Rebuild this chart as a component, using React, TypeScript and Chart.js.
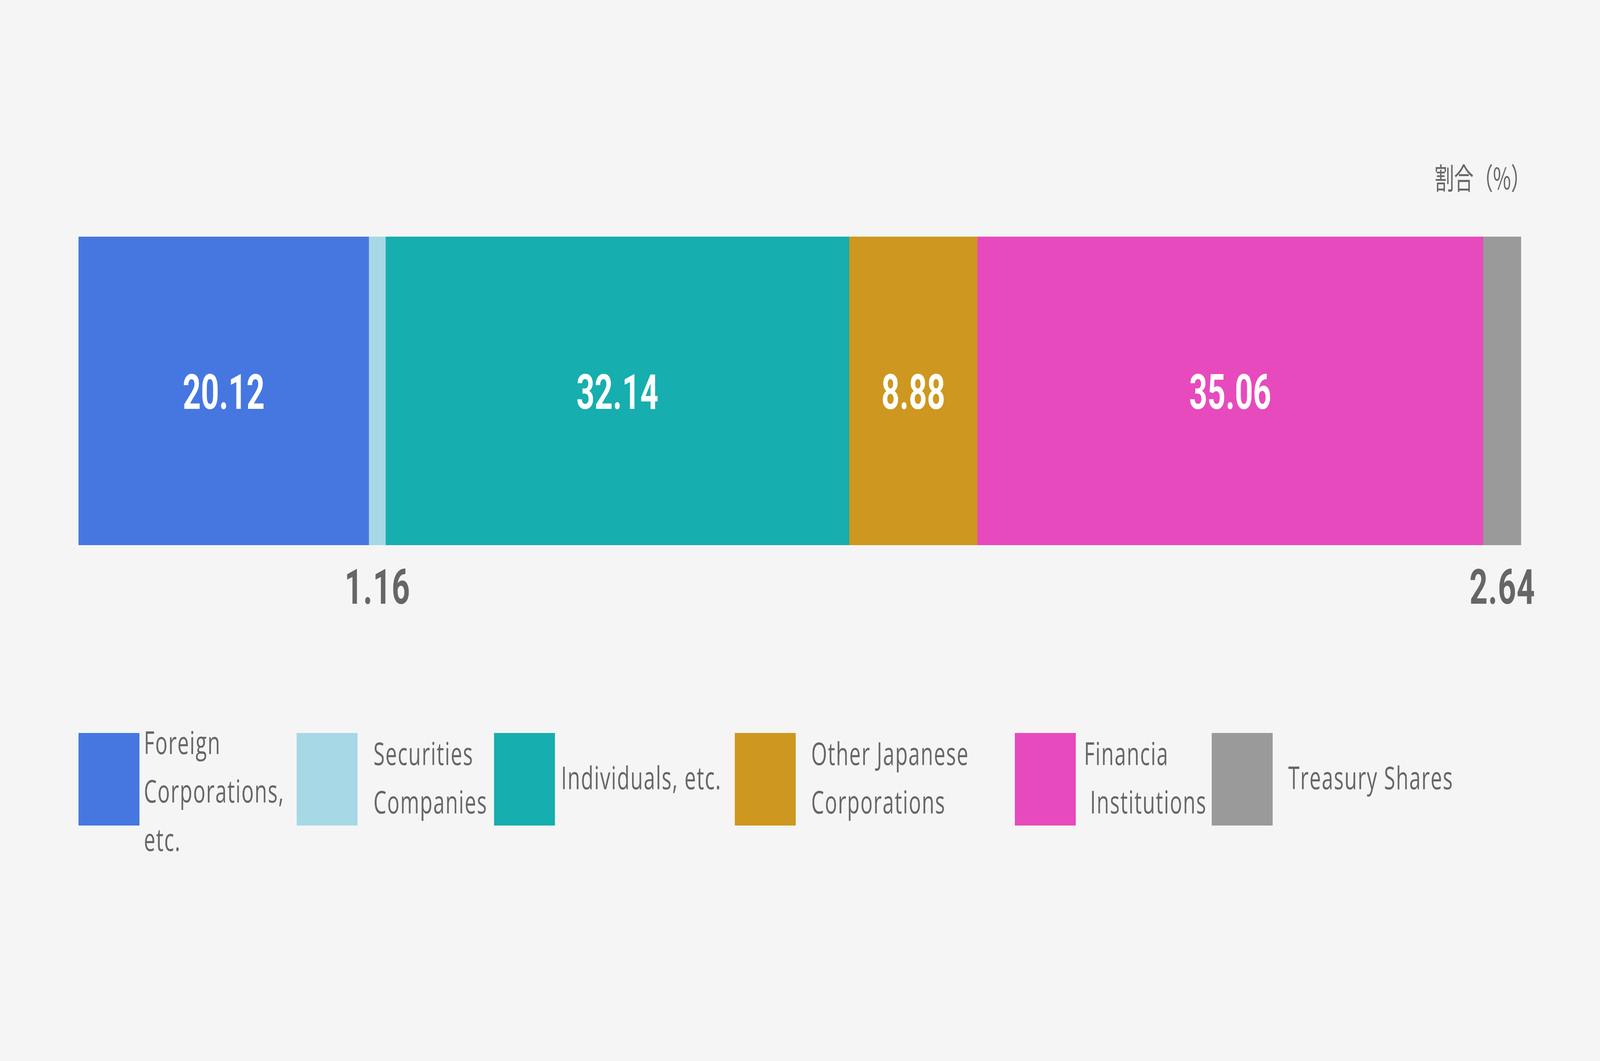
import { useEffect, useRef } from "react"
import { Chart, registerables } from "chart.js"

Chart.register(...registerables)

// categories, split into the lines used in the legend
const categoryLines = [
  ["Foreign", "Corporations,", "etc."],
  ["Securities", "Companies"],
  ["Individuals, etc."],
  ["Other Japanese", "Corporations"],
  ["Financia", " Institutions"],
  ["Treasury Shares"],
]
const shareValues = [20.12, 1.16, 32.14, 8.88, 35.06, 2.64]
const unitLabel = "割合（%）"

const colors = ["#4677e1", "#a6d8e6", "#16aeae", "#ce971f", "#e74abd", "#9a9a9a"]

// the chart is laid out at the reference size and fitted to the window
const REF_W = 6251
const REF_H = 2717
const legendBoxX = [307, 1159, 1930, 2871, 3965, 4734]
const legendTextX = [562, 1459, 2192, 3169, 4235, 5033]
const LEGEND_TOP = 1877
const BOX_W = 238
const BOX_H = 237
const LINE_H = 124
const CAP_H = 58

const overlayPlugin = {
  id: "overlay",
  afterDatasetsDraw(chart: Chart) {
    const ctx = chart.ctx as any
    const area = chart.chartArea
    ctx.save()

    // unit label
    ctx.font = '400 76px "Noto Sans CJK JP"'
    ctx.fillStyle = "#666"
    ctx.textAlign = "right"
    ctx.textBaseline = "middle"
    ctx.fillText(unitLabel, area.right + 36, 456)

    // value labels: inside the bar, or under it for the thin segments
    ctx.font = "700 124px Roboto"
    ctx.textAlign = "center"
    ctx.textBaseline = "alphabetic"
    chart.data.datasets.forEach((ds, i) => {
      const el: any = chart.getDatasetMeta(i).data[0]
      if (!el) return
      const { x, base, y } = el.getProps(["x", "base", "y"], true)
      const cx = (x + base) / 2
      const v = ds.data[0] as number
      const txt = v.toFixed(2)
      if (v >= 5) {
        ctx.letterSpacing = "0px"
        ctx.fillStyle = "#ffffff"
        ctx.fillText(txt, cx, y + 46)
      } else {
        ctx.letterSpacing = "2px"
        ctx.fillStyle = "#666"
        ctx.fillText(txt, cx + 1, area.bottom + 150)
      }
    })

    // legend
    ctx.letterSpacing = "3px"
    ctx.font = '400 80px "Open Sans"'
    ctx.textAlign = "left"
    categoryLines.forEach((lines, i) => {
      ctx.fillStyle = colors[i]
      ctx.fillRect(legendBoxX[i], LEGEND_TOP, BOX_W, BOX_H)
      const center = LEGEND_TOP + BOX_H / 2
      const firstCap = Math.max(center - ((lines.length - 1) * LINE_H) / 2, LEGEND_TOP + CAP_H / 2)
      ctx.fillStyle = "#666"
      lines.forEach((line, k) => {
        ctx.fillText(line, legendTextX[i], firstCap + CAP_H / 2 + k * LINE_H - 4)
      })
    })

    ctx.restore()
  },
}

export default function App() {
  const chartRef = useRef<HTMLCanvasElement>(null)
  const wrapRef = useRef<HTMLDivElement>(null)
  const chartInstance = useRef<Chart | null>(null)

  useEffect(() => {
    document.body.style.margin = "0"
    document.body.style.background = "#f5f5f5"
    if (!chartRef.current || !wrapRef.current) return
    if (chartInstance.current) chartInstance.current.destroy()

    // fit the reference-sized layout into the actual window
    wrapRef.current.style.transform = `scale(${window.innerWidth / REF_W}, ${window.innerHeight / REF_H})`

    const ctx = chartRef.current.getContext("2d")
    if (!ctx) return

    chartInstance.current = new Chart(ctx, {
      type: "bar",
      data: {
        labels: ["share"],
        datasets: shareValues.map((v, i) => ({
          label: categoryLines[i].join(" ").replace(/\s+/g, " ").trim(),
          data: [v],
          backgroundColor: colors[i],
          borderWidth: 0,
          barPercentage: 1,
          categoryPercentage: 1,
        })),
      },
      options: {
        indexAxis: "y",
        animation: false,
        responsive: true,
        maintainAspectRatio: false,
        devicePixelRatio: 1,
        layout: {
          padding: { left: 307, right: 308, top: 606, bottom: 1321 },
        },
        scales: {
          x: { stacked: true, min: 0, max: 100, display: false },
          y: { stacked: true, display: false },
        },
        plugins: {
          legend: { display: false },
          tooltip: { enabled: false },
        },
      },
      plugins: [overlayPlugin],
    })

    return () => {
      if (chartInstance.current) {
        chartInstance.current.destroy()
        chartInstance.current = null
      }
    }
  }, [])

  return (
    <div style={{ width: "100vw", height: "100vh", background: "#f5f5f5", overflow: "hidden" }}>
      <div ref={wrapRef} style={{ width: REF_W, height: REF_H, transformOrigin: "0 0", position: "relative" }}>
        <canvas ref={chartRef} />
      </div>
    </div>
  )
}
